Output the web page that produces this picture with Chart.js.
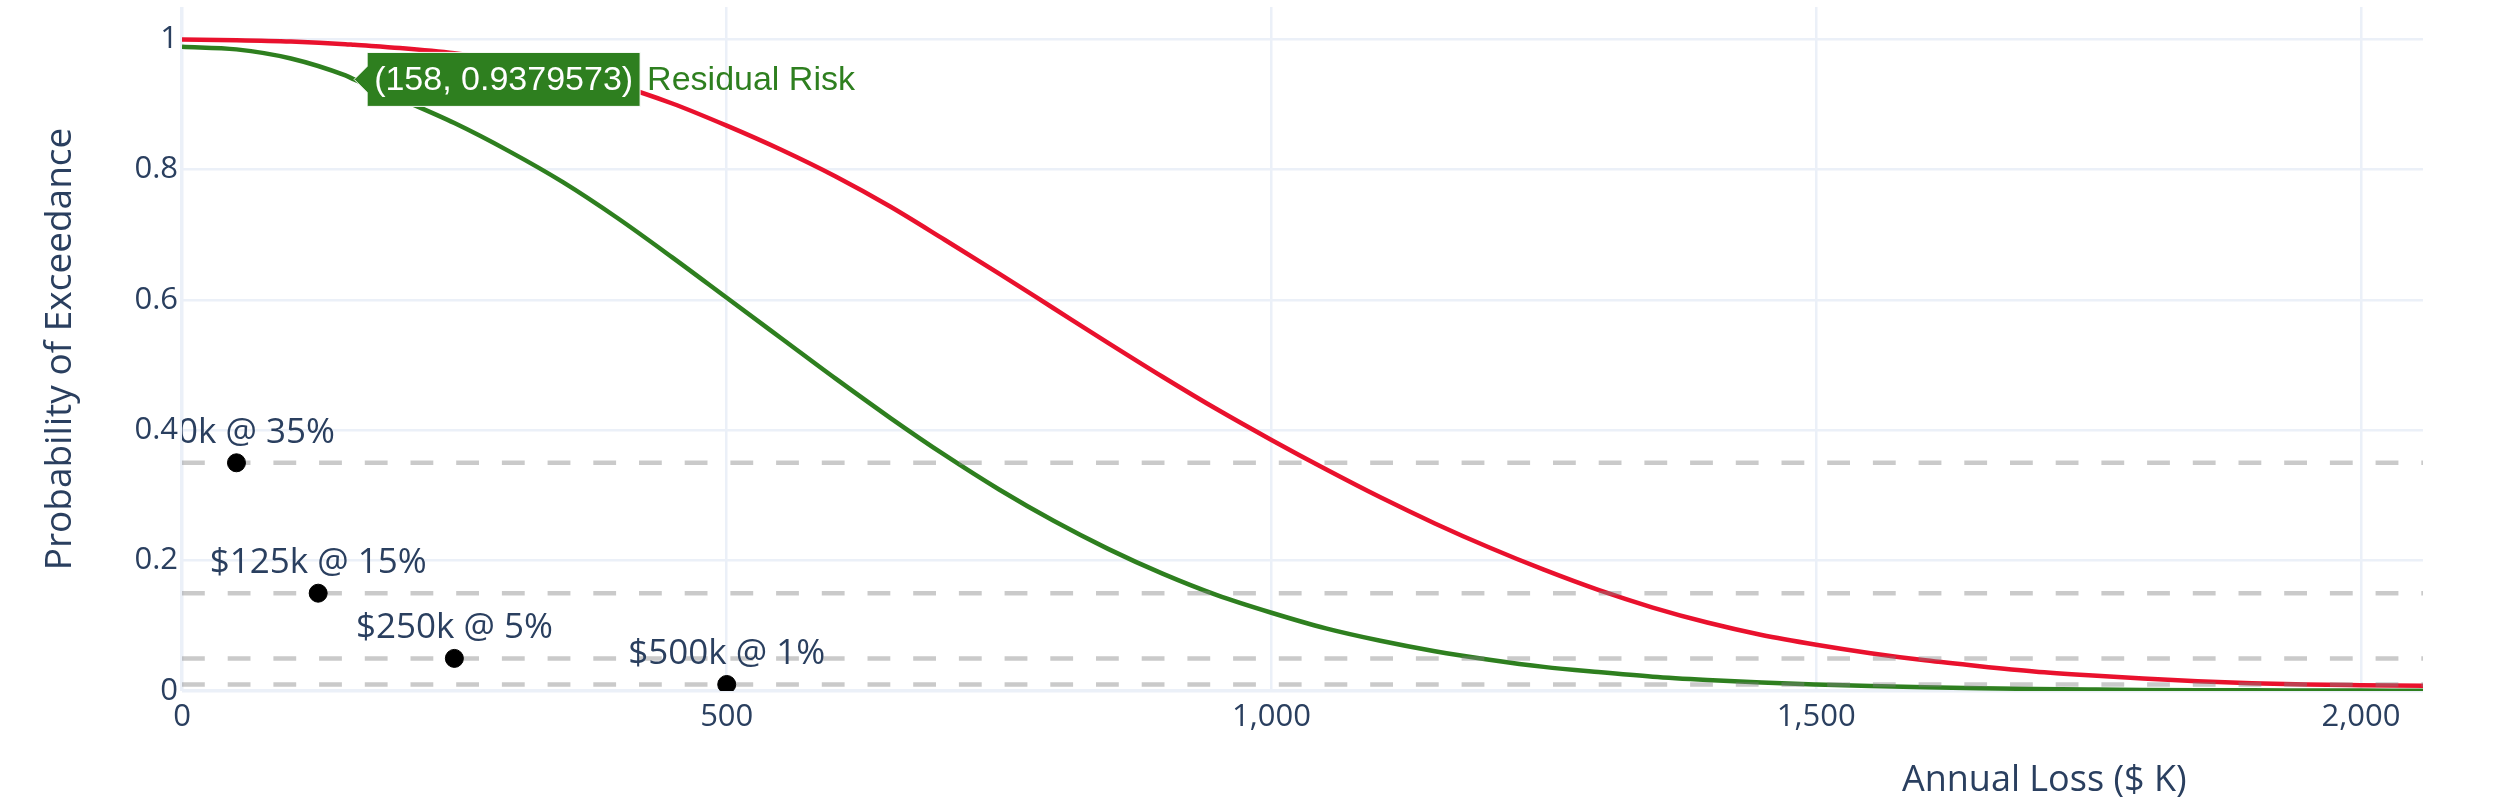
<!DOCTYPE html>
<html>
<head>
<meta charset="utf-8">
<script src="https://cdn.jsdelivr.net/npm/chart.js@4"></script>
<style>
  html, body { margin: 0; padding: 0; background: #fff; }
  #wrap { width: 2500px; height: 802px; }
</style>
</head>
<body>
<div id="wrap"><canvas id="chart" width="2500" height="802"></canvas></div>
<script>
/* loss exceedance curve */
const lossK = [0, 50, 100, 150, 158, 200, 250, 300, 350, 400, 450, 500, 550, 600, 650, 700, 750, 800, 850, 900, 950, 1000,
  1050, 1100, 1150, 1200, 1250, 1300, 1350, 1400, 1450, 1500, 1550, 1600, 1650, 1700, 1750, 1800, 1850, 1900, 1950, 2000, 2057];
const inherentRisk = [0.999, 0.998, 0.996, 0.992, 0.991, 0.986, 0.978, 0.966, 0.950, 0.929, 0.901, 0.867, 0.830, 0.789, 0.743, 0.692, 0.640, 0.587, 0.534, 0.482, 0.432, 0.385,
  0.340, 0.297, 0.257, 0.220, 0.186, 0.155, 0.128, 0.105, 0.086, 0.071, 0.058, 0.047, 0.038, 0.030, 0.024, 0.019, 0.015, 0.012, 0.010, 0.009, 0.008];
const residualRisk = [0.988, 0.984, 0.970, 0.944, 0.938, 0.908, 0.871, 0.828, 0.780, 0.725, 0.665, 0.603, 0.541, 0.479, 0.419, 0.362, 0.309, 0.261, 0.218, 0.180, 0.147, 0.120,
  0.096, 0.077, 0.061, 0.048, 0.037, 0.029, 0.022, 0.017, 0.013, 0.010, 0.0075, 0.0056, 0.0042, 0.0031, 0.0023, 0.0017, 0.0013, 0.001, 0.0008, 0.0006, 0.0005];

const toleranceLoss = [50, 125, 250, 500];
const toleranceProb = [0.35, 0.15, 0.05, 0.01];
const toleranceText = ["$50k @ 35%", "$125k @ 15%", "$250k @ 5%", "$500k @ 1%"];

const hoverLoss = 158;
const hoverProb = 0.9379573;
const hoverName = "Residual Risk";

const xTicks = [0, 500, 1000, 1500, 2000];
const yTicks = [0, 0.2, 0.4, 0.6, 0.8, 1];
const xMin = 0, xMax = 2057;
const yMin = 0, yMax = 1.049;
const xTitle = "Annual Loss ($ K)";
const yTitle = "Probability of Exceedance";

const RED = "#e9112d";
const GREEN = "#2e7f1f";
const INK = "#2a3f5f";
const GRID = "#ebf0f8";

Chart.defaults.font.family = "'Open Sans', sans-serif";
Chart.defaults.color = INK;

const toPoints = (xs, ys) => xs.map((x, i) => ({ x, y: ys[i] }));

const dashSets = toleranceProb.map((p) => ({
  type: "line",
  data: [{ x: xMin, y: p }, { x: xMax, y: p }],
  borderColor: "rgba(128,128,128,0.42)",
  borderWidth: 4.5,
  borderDash: [22.8, 22.9],
  pointRadius: 0,
  order: 1,
}));

// no label padding around the plot, the area is fixed like the plotly margins
function noPadding(s) {
  s.paddingTop = 0;
  s.paddingBottom = 0;
  s.paddingLeft = 0;
  s.paddingRight = 0;
}

// marker labels above the tolerance points, clipped to the plot like plotly does
const markerLabels = {
  id: "markerLabels",
  afterDatasetsDraw(chart) {
    const meta = chart.getDatasetMeta(chart.data.datasets.length - 1);
    const { ctx, chartArea: a } = chart;
    ctx.save();
    ctx.beginPath();
    ctx.rect(a.left, a.top, a.right - a.left, a.bottom - a.top);
    ctx.clip();
    ctx.font = "35px 'Open Sans', sans-serif";
    ctx.fillStyle = INK;
    ctx.textAlign = "center";
    ctx.textBaseline = "alphabetic";
    meta.data.forEach((pt, i) => ctx.fillText(toleranceText[i], pt.x, pt.y - 20));
    ctx.restore();
  },
};

// plotly style hover label
const hoverLabel = {
  id: "hoverLabel",
  afterDraw(chart) {
    const { ctx } = chart;
    const px = chart.scales.x.getPixelForValue(hoverLoss);
    const py = chart.scales.y.getPixelForValue(hoverProb);
    const text = `(${hoverLoss}, ${hoverProb})`;
    ctx.save();
    ctx.font = "34px 'Liberation Sans', Arial, sans-serif";
    const tw = ctx.measureText(text).width;
    const arrow = 13, padX = 7, h = 54;
    const bx = px + arrow, bw = tw + padX * 2;
    ctx.beginPath();
    ctx.moveTo(px, py);
    ctx.lineTo(bx, py - arrow);
    ctx.lineTo(bx, py - h / 2);
    ctx.lineTo(bx + bw, py - h / 2);
    ctx.lineTo(bx + bw, py + h / 2);
    ctx.lineTo(bx, py + h / 2);
    ctx.lineTo(bx, py + arrow);
    ctx.closePath();
    ctx.fillStyle = GREEN;
    ctx.fill();
    ctx.strokeStyle = "#ffffff";
    ctx.lineWidth = 1;
    ctx.stroke();
    ctx.textBaseline = "middle";
    ctx.textAlign = "left";
    ctx.fillStyle = "#ffffff";
    ctx.fillText(text, bx + padX, py + 1);
    ctx.fillStyle = GREEN;
    ctx.fillText(hoverName, bx + bw + 7, py + 1);
    ctx.restore();
  },
};

const axisTitles = {
  id: "axisTitles",
  afterDraw(chart) {
    const { ctx, chartArea: a } = chart;
    ctx.save();
    ctx.fillStyle = INK;
    ctx.font = "36px 'Open Sans', sans-serif";
    ctx.textAlign = "center";
    ctx.textBaseline = "middle";
    ctx.fillText(xTitle, a.left + (a.right - a.left) * 0.831, chart.height - 21);
    ctx.translate(60, (a.top + a.bottom) / 2);
    ctx.rotate(-Math.PI / 2);
    ctx.font = "37px 'Open Sans', sans-serif";
    ctx.fillText(yTitle, 0, 0);
    ctx.restore();
  },
};

new Chart(document.getElementById("chart"), {
  data: {
    datasets: [
      {
        type: "line",
        label: "Inherent Risk",
        data: toPoints(lossK, inherentRisk),
        borderColor: RED,
        borderWidth: 4.5,
        pointRadius: 0,
        cubicInterpolationMode: "monotone",
        order: 2,
      },
      {
        type: "line",
        label: hoverName,
        data: toPoints(lossK, residualRisk),
        borderColor: GREEN,
        borderWidth: 4.5,
        pointRadius: 0,
        cubicInterpolationMode: "monotone",
        order: 3,
      },
      ...dashSets,
      {
        type: "scatter",
        label: "Risk Tolerance",
        data: toPoints(toleranceLoss, toleranceProb),
        backgroundColor: "#000000",
        borderColor: "#000000",
        pointRadius: 9,
        order: 0,
      },
    ],
  },
  options: {
    responsive: false,
    devicePixelRatio: 1,
    animation: false,
    events: [],
    layout: { autoPadding: false, padding: { top: 7, right: 77, bottom: 0, left: 0 } },
    plugins: { legend: { display: false }, tooltip: { enabled: false } },
    scales: {
      x: {
        type: "linear",
        min: xMin,
        max: xMax,
        border: { display: false },
        grid: {
          color: GRID,
          lineWidth: (c) => (c.tick && c.tick.value === 0 ? 3.5 : 2.5),
          drawTicks: false,
        },
        ticks: {
          maxRotation: 0,
          autoSkip: false,
          padding: 8,
          font: { size: 31 },
          callback: (v) => Number(v).toLocaleString("en-US"),
        },
        afterBuildTicks: (s) => { s.ticks = xTicks.map((value) => ({ value })); },
        afterFit: (s) => { s.height = 111; noPadding(s); },
      },
      y: {
        type: "linear",
        min: yMin,
        max: yMax,
        border: { display: false },
        grid: {
          color: GRID,
          lineWidth: (c) => (c.tick && c.tick.value === 0 ? 3.5 : 2.5),
          drawTicks: false,
        },
        ticks: {
          autoSkip: false,
          padding: 4,
          font: { size: 31 },
          callback: (v) => String(v),
        },
        afterBuildTicks: (s) => { s.ticks = yTicks.map((value) => ({ value })); },
        afterFit: (s) => { s.width = 182; noPadding(s); },
      },
    },
  },
  plugins: [markerLabels, hoverLabel, axisTitles],
});
</script>
</body>
</html>
